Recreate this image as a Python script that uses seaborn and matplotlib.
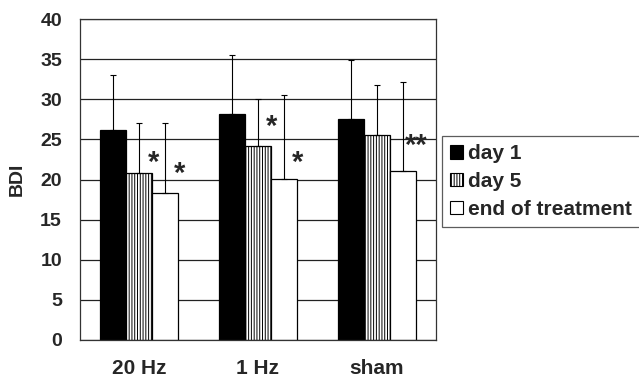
import matplotlib
matplotlib.use("Agg")
import matplotlib.pyplot as plt
from matplotlib.patches import Patch
import seaborn as sns
import pandas as pd

groups = ["20 Hz", "1 Hz", "sham"]
times = ["day 1", "day 5", "end of treatment"]
means = {
    "day 1": [26.2, 28.1, 27.6],
    "day 5": [20.75, 24.2, 25.6],
    "end of treatment": [18.35, 20.05, 21.1],
}
sd = {
    "day 1": [6.8, 7.4, 7.35],
    "day 5": [6.35, 5.85, 6.15],
    "end of treatment": [8.65, 10.5, 11.0],
}
# significance marks: (group, time, label, y position)
stars = [
    ("20 Hz", "day 5", "*", 22.9),
    ("20 Hz", "end of treatment", "*", 21.5),
    ("1 Hz", "day 5", "*", 27.4),
    ("1 Hz", "end of treatment", "*", 22.9),
    ("sham", "end of treatment", "**", 25.0),
]
yticks = [0, 5, 10, 15, 20, 25, 30, 35, 40]

rows = []
for t in times:
    for g, v in zip(groups, means[t]):
        rows.append({"group": g, "time": t, "BDI": v})
df = pd.DataFrame(rows)

sns.set_style("white")
plt.rcParams["font.family"] = ["Liberation Sans", "DejaVu Sans"]
plt.rcParams["font.weight"] = "bold"
plt.rcParams["hatch.linewidth"] = 0.7

fig = plt.figure(figsize=(6.39, 3.81), dpi=100)
ax = fig.add_axes([80 / 639, 41 / 381, 356 / 639, 321 / 381])

sns.barplot(data=df, x="group", y="BDI", hue="time", order=groups, hue_order=times,
            palette=["black", "white", "white"], edgecolor="black", linewidth=0.9,
            width=0.66, errorbar=None, dodge=True, ax=ax, legend=False, zorder=2)

for ci, (t, cont) in enumerate(zip(times, ax.containers)):
    for gi, bar in enumerate(cont):
        if t == "day 5":
            bar.set_hatch("||||||")
        x = bar.get_x() + bar.get_width() / 2
        h = bar.get_height()
        ax.errorbar(x, h, yerr=[[0], [sd[t][gi]]], fmt="none", ecolor="black",
                    elinewidth=0.8, capsize=2.5, capthick=0.8, zorder=3)

for g, t, lab, yv in stars:
    cont = ax.containers[times.index(t)]
    bar = cont[groups.index(g)]
    x = bar.get_x() + bar.get_width()
    ax.annotate(lab, xy=(x, yv), xytext=(0.5, -5), textcoords="offset points",
                ha="center", va="center", fontsize=21, fontweight="bold", zorder=4)

ax.set_ylim(0, 40)
ax.set_xlim(-0.5, 2.5)
ax.set_yticks(yticks)
ax.set_yticklabels([str(v) for v in yticks], fontsize=14, fontweight="bold")
ax.set_xticks(range(len(groups)))
ax.set_xticklabels(groups, fontsize=15, fontweight="bold")
ax.set_xticks([-0.5, 0.5, 1.5, 2.5], minor=True)
ax.tick_params(axis="x", which="major", length=0, pad=14)
ax.tick_params(axis="x", which="minor", length=5, width=0.9, color="#333333", direction="out")
ax.tick_params(axis="y", which="major", length=6, width=0.9, color="#333333", direction="out", pad=7)
ax.set_xlabel("")
ax.set_ylabel("BDI", fontsize=14, fontweight="bold")
ax.yaxis.set_label_coords(-0.152, 0.5)

ax.set_axisbelow(True)
ax.yaxis.grid(True, color="#222222", linewidth=0.9)
ax.xaxis.grid(False)
for s in ax.spines.values():
    s.set_visible(True)
    s.set_color("#333333")
    s.set_linewidth(0.9)

handles = [
    Patch(facecolor="black", edgecolor="black", linewidth=0.8),
    Patch(facecolor="white", edgecolor="black", hatch="||||||", linewidth=0.8),
    Patch(facecolor="white", edgecolor="black", linewidth=0.8),
]
leg = fig.legend(handles, times, loc="upper left", bbox_to_anchor=(442 / 639, 1 - 136 / 381),
                 prop={"size": 15, "weight": "bold"}, frameon=True, fancybox=False,
                 handlelength=0.62, handleheight=0.62, handletextpad=0.25,
                 labelspacing=0.42, borderpad=0.4, borderaxespad=0.0)
leg.get_frame().set_edgecolor("#333333")
leg.get_frame().set_linewidth(0.9)

fig.savefig("out.png", dpi=100)
